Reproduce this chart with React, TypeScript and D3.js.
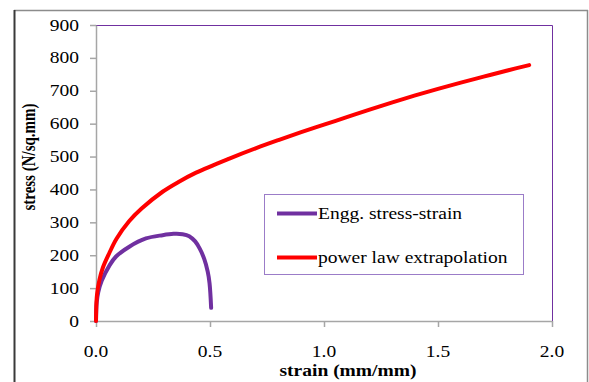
import React, { useRef, useEffect } from "react";
import * as d3 from "d3";

// values
const enggStrain = [0, 0.003, 0.01, 0.025, 0.06, 0.088, 0.146, 0.219, 0.292, 0.34, 0.38, 0.409, 0.435, 0.455, 0.475, 0.49, 0.498, 0.505];
const enggStress = [0, 55, 88, 122, 170, 196, 226, 251, 261, 265, 264, 258, 242, 220, 188, 150, 115, 40];

const powerStrain = [0, 0.002, 0.005, 0.015, 0.03, 0.058, 0.09, 0.146, 0.2, 0.292, 0.36, 0.439, 0.585, 0.7, 0.8, 0.9, 1.0, 1.1, 1.2, 1.3, 1.4, 1.5, 1.6, 1.7, 1.8, 1.9];
const powerStress = [0, 58, 84, 125, 162, 206, 250, 304, 342, 393, 422, 451, 494, 525, 550, 574, 597, 620, 643, 665, 686, 706, 725, 743, 761, 778];

const strainTicks = [0, 0.5, 1.0, 1.5, 2.0];
const stressTicks = [0, 100, 200, 300, 400, 500, 600, 700, 800, 900];

const seriesNames = ["Engg. stress-strain", "power law extrapolation"];
const seriesColors = ["#7030a0", "#ff0000"];

const font = "'Liberation Serif', 'Times New Roman', serif";
const stretch = 1.22; // the picture is wider than its text would be

const App = () => {
  const svgRef = useRef<SVGSVGElement>(null);

  useEffect(() => {
    const svg = d3.select(svgRef.current);
    const width = 589;
    const height = 382;
    const margin = { top: 25, right: 37, bottom: 61, left: 96 };

    svg.attr("width", width).attr("height", height);
    svg.selectAll("*").remove();

    const x = d3.scaleLinear().domain([0, 2]).range([margin.left, width - margin.right]);
    const y = d3.scaleLinear().domain([0, 900]).range([height - margin.bottom, margin.top]);

    // outer chart frame
    svg.append("rect").attr("x", 0).attr("y", 0).attr("width", width).attr("height", height).attr("fill", "#fff");
    svg.append("line").attr("x1", 14).attr("x2", 588).attr("y1", 10.5).attr("y2", 10.5).attr("stroke", "#8c8c8c").attr("stroke-width", 1.5);
    svg.append("line").attr("x1", 587.5).attr("x2", 587.5).attr("y1", 10).attr("y2", height).attr("stroke", "#8c8c8c").attr("stroke-width", 1.5);
    svg.append("line").attr("x1", 14.5).attr("x2", 14.5).attr("y1", 10).attr("y2", height).attr("stroke", "#3a3a3a").attr("stroke-width", 2);

    // plot border (top and right)
    svg.append("path")
      .attr("d", `M${x(0)},${y(900) + 0.5}H${x(2) + 0.5}V${y(0)}`)
      .attr("fill", "none")
      .attr("stroke", "#7030a0")
      .attr("stroke-width", 1);

    const yAxis = svg.append("g")
      .attr("transform", `translate(${x(0)},0)`)
      .call(d3.axisLeft(y).tickValues(stressTicks).tickSize(6).tickSizeOuter(0).tickFormat(() => ""));
    const xAxis = svg.append("g")
      .attr("transform", `translate(0,${y(0)})`)
      .call(d3.axisBottom(x).tickValues(strainTicks).tickSize(6).tickSizeOuter(0).tickFormat(() => ""));
    [yAxis, xAxis].forEach((g) => {
      g.selectAll("path, line").attr("stroke", "#a6a6a6").attr("stroke-width", 1.5);
    });

    // tick labels
    svg.selectAll(".ylab")
      .data(stressTicks)
      .enter()
      .append("text")
      .attr("transform", (d) => `translate(79,${y(d)}) scale(${stretch},1)`)
      .attr("text-anchor", "end")
      .attr("dy", "0.35em")
      .style("font-family", font)
      .style("font-size", "16px")
      .text((d) => d);

    svg.selectAll(".xlab")
      .data(strainTicks)
      .enter()
      .append("text")
      .attr("transform", (d) => `translate(${x(d)},${y(0) + 30}) scale(${stretch},1)`)
      .attr("text-anchor", "middle")
      .attr("dy", "0.35em")
      .style("font-family", font)
      .style("font-size", "16px")
      .text((d) => d.toFixed(1));

    // axis titles
    svg.append("text")
      .attr("transform", `translate(348,376) scale(${stretch},1)`)
      .attr("text-anchor", "middle")
      .style("font-family", font)
      .style("font-size", "16px")
      .style("font-weight", "bold")
      .text("strain (mm/mm)");

    svg.append("text")
      .attr("transform", `translate(35,157) scale(${stretch},1) rotate(-90)`)
      .attr("text-anchor", "middle")
      .style("font-family", font)
      .style("font-size", "15px")
      .style("font-weight", "bold")
      .text("stress (N/sq.mm)");

    const line = d3.line<[number, number]>()
      .x((d) => x(d[0]))
      .y((d) => y(d[1]))
      .curve(d3.curveCatmullRom.alpha(0.5));

    const enggData = enggStrain.map((s, i) => [s, enggStress[i]] as [number, number]);
    const powerData = powerStrain.map((s, i) => [s, powerStress[i]] as [number, number]);

    svg.append("path")
      .attr("d", line(enggData))
      .attr("fill", "none")
      .attr("stroke", seriesColors[0])
      .attr("stroke-width", 4)
      .attr("stroke-linecap", "round");

    svg.append("path")
      .attr("d", line(powerData))
      .attr("fill", "none")
      .attr("stroke", seriesColors[1])
      .attr("stroke-width", 4)
      .attr("stroke-linecap", "round");

    // legend
    const legend = svg.append("g");
    legend.append("rect")
      .attr("x", 264.5).attr("y", 194.5).attr("width", 259).attr("height", 80)
      .attr("fill", "#fff").attr("stroke", "#9b7cc8").attr("stroke-width", 1);
    seriesNames.forEach((name, i) => {
      const cy = 213.5 + i * 44;
      legend.append("line")
        .attr("x1", 277).attr("x2", 317).attr("y1", cy).attr("y2", cy)
        .attr("stroke", seriesColors[i]).attr("stroke-width", 4);
      legend.append("text")
        .attr("transform", `translate(318,${cy}) scale(${stretch},1)`)
        .attr("dy", "0.35em")
        .style("font-family", font)
        .style("font-size", "16px")
        .text(name);
    });
  }, []);

  return (
    <svg ref={svgRef} style={{ position: "fixed", left: 0, top: 0, display: "block" }}></svg>
  );
};

export default App;
